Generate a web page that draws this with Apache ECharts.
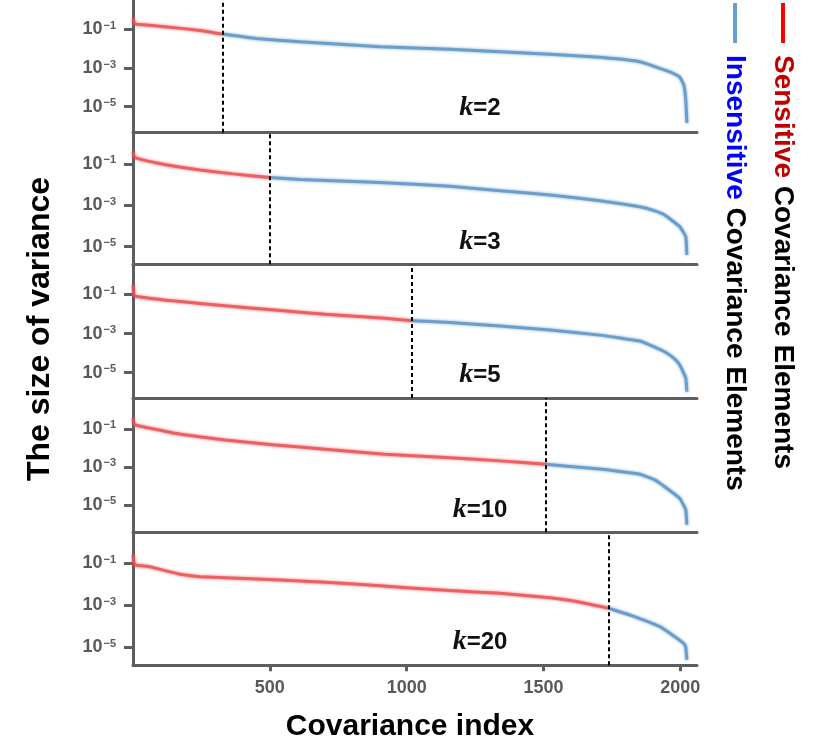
<!DOCTYPE html>
<html>
<head>
<meta charset="utf-8">
<script src="https://cdn.jsdelivr.net/npm/echarts@6/dist/echarts.min.js"></script>
<style>
  html, body { margin: 0; padding: 0; background: #fff; }
  #view { width: 814px; height: 745px; }
</style>
</head>
<body>
<div id="view"></div>
<script>
// values are log10(variance); x = covariance index
var ks = [2, 3, 5, 10, 20];
var splits = [327, 498, 1020, 1508, 1739];

var k2Sensitive = [[0, -0.43], [5, -0.70], [14, -0.74], [125, -0.88], [245, -1.06], [327, -1.25]];
var k2Insensitive = [[327, -1.25], [450, -1.48], [610, -1.64], [902, -1.90], [1158, -2.03], [1341, -2.16],
    [1524, -2.29], [1706, -2.45], [1779, -2.54], [1852, -2.68], [1889, -2.84], [1925, -3.02],
    [1962, -3.20], [1998, -3.47], [2013, -3.88], [2020, -4.65], [2024, -5.84]];

var k3Sensitive = [[0, -0.40], [4, -0.62], [11, -0.72], [125, -1.05], [245, -1.29], [366, -1.48], [498, -1.66]];
var k3Insensitive = [[498, -1.66], [610, -1.75], [902, -1.90], [1158, -2.08], [1341, -2.29], [1524, -2.50],
    [1706, -2.78], [1852, -3.07], [1907, -3.27], [1943, -3.47], [1998, -4.03], [2020, -4.52], [2024, -5.40]];

var k5Sensitive = [[0, -0.53], [3, -1.00], [8, -1.09], [154, -1.34], [336, -1.58], [519, -1.80],
    [702, -2.02], [920, -2.22], [1020, -2.35]];
var k5Insensitive = [[1020, -2.35], [1158, -2.43], [1341, -2.62], [1524, -2.82], [1706, -3.08], [1852, -3.38],
    [1907, -3.69], [1943, -3.93], [1980, -4.30], [1998, -4.61], [2020, -5.27], [2024, -5.97]];

var k10Sensitive = [[0, -0.44], [3, -0.70], [8, -0.79], [154, -1.23], [336, -1.58], [519, -1.84],
    [702, -2.07], [920, -2.33], [1158, -2.51], [1341, -2.68], [1508, -2.86]];
var k10Insensitive = [[1508, -2.86], [1706, -3.11], [1852, -3.38], [1907, -3.68], [1943, -4.04],
    [1998, -4.65], [2020, -5.26], [2024, -6.05]];

var k20Sensitive = [[0, -0.60], [3, -0.95], [8, -1.08], [62, -1.16], [99, -1.29], [172, -1.52], [245, -1.64],
    [428, -1.73], [610, -1.84], [793, -1.97], [1012, -2.17], [1158, -2.30], [1341, -2.43], [1524, -2.64],
    [1626, -2.83], [1739, -3.14]];
var k20Insensitive = [[1739, -3.14], [1815, -3.46], [1925, -4.02], [1980, -4.50], [2015, -4.85],
    [2020, -5.00], [2024, -5.60]];

var sensitive = [k2Sensitive, k3Sensitive, k5Sensitive, k10Sensitive, k20Sensitive];
var insensitive = [k2Insensitive, k3Insensitive, k5Insensitive, k10Insensitive, k20Insensitive];
var yTicks = [-5, -3, -1];
var xTicks = [500, 1000, 1500, 2000];

// panel layout (px) and log ranges
var gridTop = [0, 132.7, 265, 398, 532.7];
var gridHeight = [132.7, 131.6, 133, 134.3, 132.6];
var yMin = [-6.34, -5.85, -6.29, -6.44, -5.86];
var yMax = [0.51, 0.51, 0.50, 0.63, 0.46];
var kLabelY = [108, 242, 375, 510, 642];

var FONT = '"Liberation Sans", Arial, sans-serif';
var AXIS = '#5e5e5e';
var RED = '#ea4f52';
var BLUE = '#5b94c6';

var chart = echarts.init(document.getElementById('view'), null, {renderer: 'canvas'});

var grids = [], xAxes = [], yAxes = [], series = [], graphics = [];
ks.forEach(function(k, i) {
    var last = i === ks.length - 1;
    grids.push({left: 133, right: 117, top: gridTop[i], height: gridHeight[i]});
    xAxes.push({
        type: 'value', gridIndex: i, min: 0, max: 2061, position: 'bottom',
        splitLine: {show: false},
        axisLine: {show: true, onZero: false, lineStyle: {color: AXIS, width: 3}},
        axisTick: {show: last, customValues: xTicks, length: 6, lineStyle: {color: AXIS, width: 3}},
        axisLabel: {show: last, customValues: xTicks, margin: 14, color: '#595959',
            formatter: function(v) { return String(v); },
            fontFamily: FONT, fontWeight: 'bold', fontSize: 18}
    });
    yAxes.push({
        type: 'value', gridIndex: i, min: yMin[i], max: yMax[i],
        splitLine: {show: false},
        axisLine: {show: true, onZero: false, lineStyle: {color: AXIS, width: 3}},
        axisTick: {show: true, customValues: yTicks, length: 9, lineStyle: {color: AXIS, width: 3}},
        axisLabel: {
            customValues: yTicks, margin: 17,
            formatter: function(v) { return '{b|10}{s|\u2212' + Math.abs(v) + '}'; },
            rich: {
                b: {fontFamily: FONT, fontWeight: 'bold', fontSize: 18, color: '#595959'},
                s: {fontFamily: FONT, fontWeight: 'bold', fontSize: 11, color: '#595959', padding: [0, 0, 7, 1]}
            }
        }
    });
    var lineCommon = {
        type: 'line', xAxisIndex: i, yAxisIndex: i, showSymbol: false, silent: true,
        smooth: 0.1
    };
    series.push(Object.assign({}, lineCommon, {
        name: 'Sensitive', data: sensitive[i],
        lineStyle: {color: RED, width: 3, opacity: 0.8, shadowBlur: 3, shadowColor: RED},
        z: 3,
        markLine: {
            silent: true, symbol: 'none', label: {show: false},
            lineStyle: {color: '#000', type: [4, 3], width: 2},
            data: [{xAxis: splits[i]}]
        }
    }));
    series.push(Object.assign({}, lineCommon, {
        name: 'Insensitive', data: insensitive[i],
        lineStyle: {color: BLUE, width: 3, opacity: 0.8, shadowBlur: 3, shadowColor: BLUE},
        z: 2
    }));
    graphics.push({
        type: 'text', x: 480, y: kLabelY[i], z: 10,
        style: {
            text: '{k|k}{n|=' + k + '}', align: 'center', verticalAlign: 'middle',
            rich: {
                k: {fontFamily: '"Liberation Serif", "DejaVu Serif", serif', fontStyle: 'italic',
                    fontWeight: 'bold', fontSize: 28, fill: '#111'},
                n: {fontFamily: FONT, fontWeight: 'bold', fontSize: 24, fill: '#111'}
            }
        }
    });
});

// axis titles
graphics.push({
    type: 'text', x: 410, y: 727,
    style: {text: 'Covariance index', align: 'center', verticalAlign: 'middle',
        fontFamily: FONT, fontWeight: 'bold', fontSize: 30, fill: '#000'}
});
graphics.push({
    type: 'text', x: 40, y: 329, rotation: Math.PI / 2,
    style: {text: 'The size of variance', align: 'center', verticalAlign: 'middle',
        fontFamily: FONT, fontWeight: 'bold', fontSize: 32, fill: '#000'}
});

// legend, rotated to read top-down
graphics.push({type: 'line', shape: {x1: 783, y1: 3, x2: 783, y2: 43}, style: {stroke: '#ff0000', lineWidth: 4}});
graphics.push({type: 'line', shape: {x1: 735, y1: 3, x2: 735, y2: 43}, style: {stroke: '#6a9fcf', lineWidth: 4}});
graphics.push({
    type: 'text', x: 783, y: 55, rotation: -Math.PI / 2,
    style: {text: '{r|Sensitive} {c|Covariance Elements}', align: 'left', verticalAlign: 'middle',
        rich: {
            r: {fontFamily: FONT, fontWeight: 'bold', fontSize: 28, fill: '#c00000'},
            c: {fontFamily: FONT, fontWeight: 'bold', fontSize: 28, fill: '#000'}
        },
        fontFamily: FONT, fontWeight: 'bold', fontSize: 28}
});
graphics.push({
    type: 'text', x: 735, y: 55, rotation: -Math.PI / 2,
    style: {text: '{b|Insensitive} {c|Covariance Elements}', align: 'left', verticalAlign: 'middle',
        rich: {
            b: {fontFamily: FONT, fontWeight: 'bold', fontSize: 28, fill: '#0000ff'},
            c: {fontFamily: FONT, fontWeight: 'bold', fontSize: 28, fill: '#000'}
        },
        fontFamily: FONT, fontWeight: 'bold', fontSize: 28}
});

chart.setOption({
    animation: false,
    backgroundColor: '#fff',
    grid: grids,
    xAxis: xAxes,
    yAxis: yAxes,
    series: series,
    graphic: graphics
});
</script>
</body>
</html>
